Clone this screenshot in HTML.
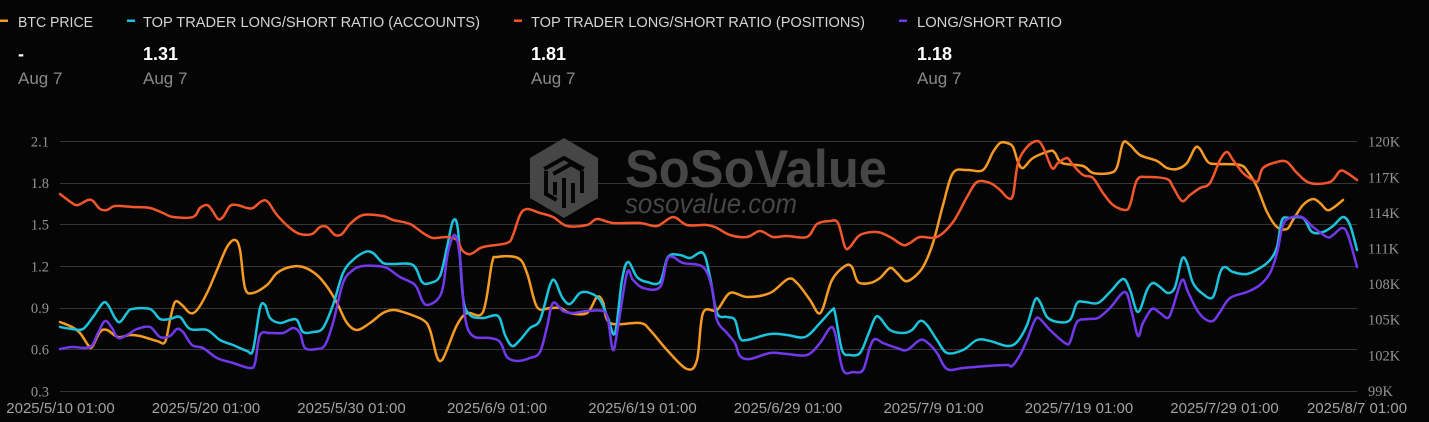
<!DOCTYPE html>
<html>
<head>
<meta charset="utf-8">
<style>
html,body{margin:0;padding:0;background:#050505;}
body{width:1429px;height:422px;overflow:hidden;}
svg{display:block;}
.s{fill:none;stroke-width:2.5;stroke-linejoin:round;stroke-linecap:round;}
.o{stroke:#f59a23;}
.c{stroke:#1cc3dc;}
.r{stroke:#f4562b;}
.p{stroke:#7238ec;}
.lt{font-family:"Liberation Sans",sans-serif;font-size:15px;fill:#d4d4d4;}
.lv{font-family:"Liberation Sans",sans-serif;font-size:18px;font-weight:bold;fill:#ffffff;}
.ld{font-family:"Liberation Sans",sans-serif;font-size:17px;fill:#8a8a8a;}
.ya{font-family:"Liberation Serif",serif;font-size:14.5px;fill:#939393;}
.xa{font-family:"Liberation Sans",sans-serif;font-size:15px;fill:#a2a2a2;}
</style>
</head>
<body>
<svg width="1429" height="422" viewBox="0 0 1429 422" xmlns="http://www.w3.org/2000/svg">
<rect x="0" y="0" width="1429" height="422" fill="#050505"/>

<!-- legend -->
<rect x="0" y="19.5" width="8" height="2.5" fill="#f59a23"/>
<text class="lt" x="18" y="27" textLength="75" lengthAdjust="spacingAndGlyphs">BTC PRICE</text>
<text class="lv" x="18" y="60">-</text>
<text class="ld" x="18" y="84">Aug 7</text>

<rect x="127" y="19.5" width="8" height="2.5" fill="#1cc3dc"/>
<text class="lt" x="143" y="27" textLength="337" lengthAdjust="spacingAndGlyphs">TOP TRADER LONG/SHORT RATIO (ACCOUNTS)</text>
<text class="lv" x="143" y="60">1.31</text>
<text class="ld" x="143" y="84">Aug 7</text>

<rect x="514" y="19.5" width="8" height="2.5" fill="#f4562b"/>
<text class="lt" x="531" y="27" textLength="334" lengthAdjust="spacingAndGlyphs">TOP TRADER LONG/SHORT RATIO (POSITIONS)</text>
<text class="lv" x="531" y="60">1.81</text>
<text class="ld" x="531" y="84">Aug 7</text>

<rect x="899" y="19.5" width="8" height="2.5" fill="#7238ec"/>
<text class="lt" x="917" y="27" textLength="145" lengthAdjust="spacingAndGlyphs">LONG/SHORT RATIO</text>
<text class="lv" x="917" y="60">1.18</text>
<text class="ld" x="917" y="84">Aug 7</text>

<!-- grid -->
<g stroke="#353535" stroke-width="1">
<line x1="60" y1="141.5" x2="1357" y2="141.5"/>
<line x1="60" y1="183.5" x2="1357" y2="183.5"/>
<line x1="60" y1="224.5" x2="1357" y2="224.5"/>
<line x1="60" y1="266.5" x2="1357" y2="266.5"/>
<line x1="60" y1="308.5" x2="1357" y2="308.5"/>
<line x1="60" y1="349.5" x2="1357" y2="349.5"/>
<line x1="60" y1="391.5" x2="1357" y2="391.5"/>
</g>

<!-- y axis left -->
<g class="ya" text-anchor="end">
<text x="49" y="146.5">2.1</text>
<text x="49" y="188">1.8</text>
<text x="49" y="229.5">1.5</text>
<text x="49" y="271.5">1.2</text>
<text x="49" y="313">0.9</text>
<text x="49" y="354.5">0.6</text>
<text x="49" y="396.5">0.3</text>
</g>
<!-- y axis right -->
<g class="ya">
<text x="1368" y="146.5">120K</text>
<text x="1368" y="182.5">117K</text>
<text x="1368" y="218">114K</text>
<text x="1368" y="253.5">111K</text>
<text x="1368" y="289">108K</text>
<text x="1368" y="324.5">105K</text>
<text x="1368" y="360.5">102K</text>
<text x="1368" y="396">99K</text>
</g>

<!-- x axis -->
<g class="xa" text-anchor="middle">
<text x="60.5" y="413">2025/5/10 01:00</text>
<text x="206" y="413">2025/5/20 01:00</text>
<text x="351.5" y="413">2025/5/30 01:00</text>
<text x="497" y="413">2025/6/9 01:00</text>
<text x="642.5" y="413">2025/6/19 01:00</text>
<text x="788" y="413">2025/6/29 01:00</text>
<text x="933.5" y="413">2025/7/9 01:00</text>
<text x="1079" y="413">2025/7/19 01:00</text>
<text x="1224.5" y="413">2025/7/29 01:00</text>
<text x="1357" y="413">2025/8/7 01:00</text>
</g>

<!-- watermark -->
<g>
<polygon points="564,138 598,158 598,198 564,218 530,198 530,158" fill="#464646"/>
<g stroke="#050505" stroke-width="4" fill="none" stroke-linecap="square">
<path d="M546,168 L564,158 L582,168"/>
<path d="M555,173 L571,164 L580,169"/>
<path d="M564,180 L564,206"/>
<path d="M546,173 L546,194 L555,199"/>
<path d="M582,173 L582,191"/>
<path d="M573,185 L573,201"/>
<path d="M555,184 L555,193"/>
</g>
<text x="625" y="187" font-family="Liberation Sans, sans-serif" font-weight="bold" font-size="53" fill="#464646" textLength="262" lengthAdjust="spacingAndGlyphs">SoSoValue</text>
<text x="625" y="213" font-family="Liberation Sans, sans-serif" font-style="italic" font-size="28" fill="#464646" textLength="172" lengthAdjust="spacingAndGlyphs">sosovalue.com</text>
</g>

<!-- series -->
<polyline class="s o" points="60,322 72,327 80,333 88,345 92,347 100,332 107,330 118,337 130,335 140,336 157,341 165,342 170,320 175,302 182,305 190,313 197,310 207,293 217,270 227,247 235,240 240,250 245,288 253,293 267,285 277,273 290,267 303,267 317,275 328,288 337,303 347,323 357,330 370,323 383,313 393,310 403,312 423,320 430,330 437,357 442,360 448,347 457,325 467,313 483,312 492,263 497,257 518,258 527,273 537,307 550,308 560,308 570,313 587,313 597,297 603,302 610,323 640,323 650,330 667,350 687,369 697,360 703,313 717,310 730,293 747,297 770,293 788,279 797,283 810,300 818,313 823,308 832,280 845,266 852,267 858,282 870,283 880,278 890,268 897,273 905,281 913,278 923,267 933,243 943,205 953,173 967,170 983,170 993,152 1000,143 1007,143 1013,147 1018,162 1023,168 1033,158 1050,151 1055,153 1062,163 1083,166 1093,173 1110,173 1117,167 1123,143 1130,145 1140,155 1157,161 1167,168 1177,169 1187,163 1195,148 1200,149 1208,162 1217,164 1240,165 1248,172 1257,187 1267,212 1277,227 1287,229 1293,220 1303,205 1313,199 1320,203 1327,210 1333,208 1343,200"/>

<polyline class="s c" points="60,327 72,329 83,329 93,317 103,303 108,305 115,318 120,322 127,313 132,309 150,309 160,319 170,319 180,317 190,329 207,330 220,340 233,345 247,351 253,350 260,308 265,305 270,318 280,323 290,320 297,320 303,332 313,332 323,328 333,305 343,273 353,260 365,252 373,253 383,263 393,264 413,265 422,282 430,283 440,276 447,247 453,221 458,230 463,297 470,315 483,318 498,316 505,335 512,346 520,340 530,328 540,320 550,285 555,281 562,297 570,304 580,293 590,293 600,300 608,318 615,333 622,280 628,262 637,277 647,282 660,282 668,257 680,255 690,258 703,253 710,277 717,313 727,317 735,320 740,338 747,340 770,334 787,335 805,337 820,323 832,310 835,313 842,350 850,355 860,353 868,335 875,318 880,318 890,330 903,333 912,330 920,321 927,325 937,340 947,353 963,350 977,340 990,341 1007,346 1017,342 1027,325 1035,300 1040,302 1047,317 1058,322 1070,320 1077,303 1085,302 1098,303 1110,292 1123,279 1130,290 1138,312 1147,290 1153,283 1160,287 1168,293 1175,287 1182,259 1187,263 1193,283 1203,294 1213,297 1220,273 1225,267 1233,272 1247,274 1260,268 1270,260 1277,247 1282,220 1290,218 1303,218 1312,232 1323,232 1333,226 1343,217 1350,225 1357,250"/>

<polyline class="s r" points="60,194 72,203 78,205 88,200 93,201 100,209 107,210 115,206 133,207 150,208 163,213 173,217 193,217 200,208 207,205 212,210 218,219 223,217 230,206 237,205 247,208 253,208 262,201 268,202 277,215 290,228 300,234 312,234 320,227 327,227 335,235 342,234 350,224 363,215 383,216 393,220 410,224 423,233 433,238 447,237 457,240 462,250 468,254 473,253 483,247 507,243 513,235 520,215 527,209 540,213 553,217 567,226 587,225 597,219 613,223 640,223 657,226 673,217 687,225 707,225 717,228 730,235 747,237 760,231 773,237 787,236 807,237 817,224 830,221 838,223 845,247 850,247 860,235 877,232 890,237 903,245 910,243 920,237 937,237 953,222 967,197 977,182 990,183 1000,190 1008,198 1013,195 1018,163 1027,147 1037,141 1043,147 1052,168 1058,163 1067,158 1073,165 1083,175 1093,178 1103,193 1113,205 1125,210 1130,205 1137,180 1147,177 1167,179 1173,187 1182,201 1190,195 1200,188 1210,183 1220,160 1227,152 1233,160 1243,173 1253,180 1258,181 1263,168 1277,162 1287,162 1297,173 1310,183 1330,182 1340,171 1347,173 1357,180"/>

<polyline class="s p" points="60,349 72,347 90,347 98,333 105,321 112,328 118,338 127,335 137,329 150,327 160,337 170,336 177,329 183,332 192,345 203,348 217,358 233,363 250,368 255,363 260,335 270,333 283,333 293,328 300,333 305,348 317,349 325,345 333,323 343,283 353,270 363,266 377,266 387,268 400,277 415,285 422,300 427,305 437,300 443,287 448,252 455,235 460,258 465,317 473,336 490,338 500,342 507,357 517,361 530,358 540,352 547,327 553,303 563,311 573,313 587,311 603,311 608,320 613,350 618,327 627,273 633,280 643,288 660,287 667,260 673,257 683,263 703,267 712,288 717,320 727,333 735,343 740,356 750,359 770,353 787,354 807,355 820,343 830,328 835,333 843,370 853,372 863,370 870,347 875,339 883,343 897,348 907,350 920,340 928,343 937,353 947,369 963,368 987,366 1007,365 1012,366 1020,355 1027,340 1035,320 1040,319 1050,330 1065,343 1070,342 1077,322 1088,319 1098,318 1110,308 1125,292 1132,313 1138,336 1143,323 1152,309 1160,313 1168,318 1173,307 1182,280 1188,292 1197,310 1205,319 1213,321 1220,312 1230,298 1247,292 1260,285 1270,273 1277,253 1283,225 1290,218 1302,217 1313,227 1327,237 1333,235 1342,228 1348,235 1357,267"/>
</svg>
<script>
(function(){
  var NS="http://www.w3.org/2000/svg";
  var pls=document.querySelectorAll("polyline.s");
  for(var k=0;k<pls.length;k++){
    var pl=pls[k];
    var raw=pl.getAttribute("points").trim().split(/\s+/);
    var pts=[];
    for(var j=0;j<raw.length;j++){var a=raw[j].split(",");pts.push([+a[0],+a[1]]);}
    var d="M"+pts[0][0]+","+pts[0][1];
    for(var i=0;i<pts.length-1;i++){
      var p0=pts[i-1]||pts[i],p1=pts[i],p2=pts[i+1],p3=pts[i+2]||pts[i+1];
      var c1x=p1[0]+(p2[0]-p0[0])/6,c1y=p1[1]+(p2[1]-p0[1])/6;
      var c2x=p2[0]-(p3[0]-p1[0])/6,c2y=p2[1]-(p3[1]-p1[1])/6;
      d+="C"+c1x.toFixed(2)+","+c1y.toFixed(2)+" "+c2x.toFixed(2)+","+c2y.toFixed(2)+" "+p2[0]+","+p2[1];
    }
    var path=document.createElementNS(NS,"path");
    path.setAttribute("d",d);
    path.setAttribute("class",pl.getAttribute("class"));
    pl.parentNode.insertBefore(path,pl);
    pl.parentNode.removeChild(pl);
  }
})();
</script>
</body>
</html>
